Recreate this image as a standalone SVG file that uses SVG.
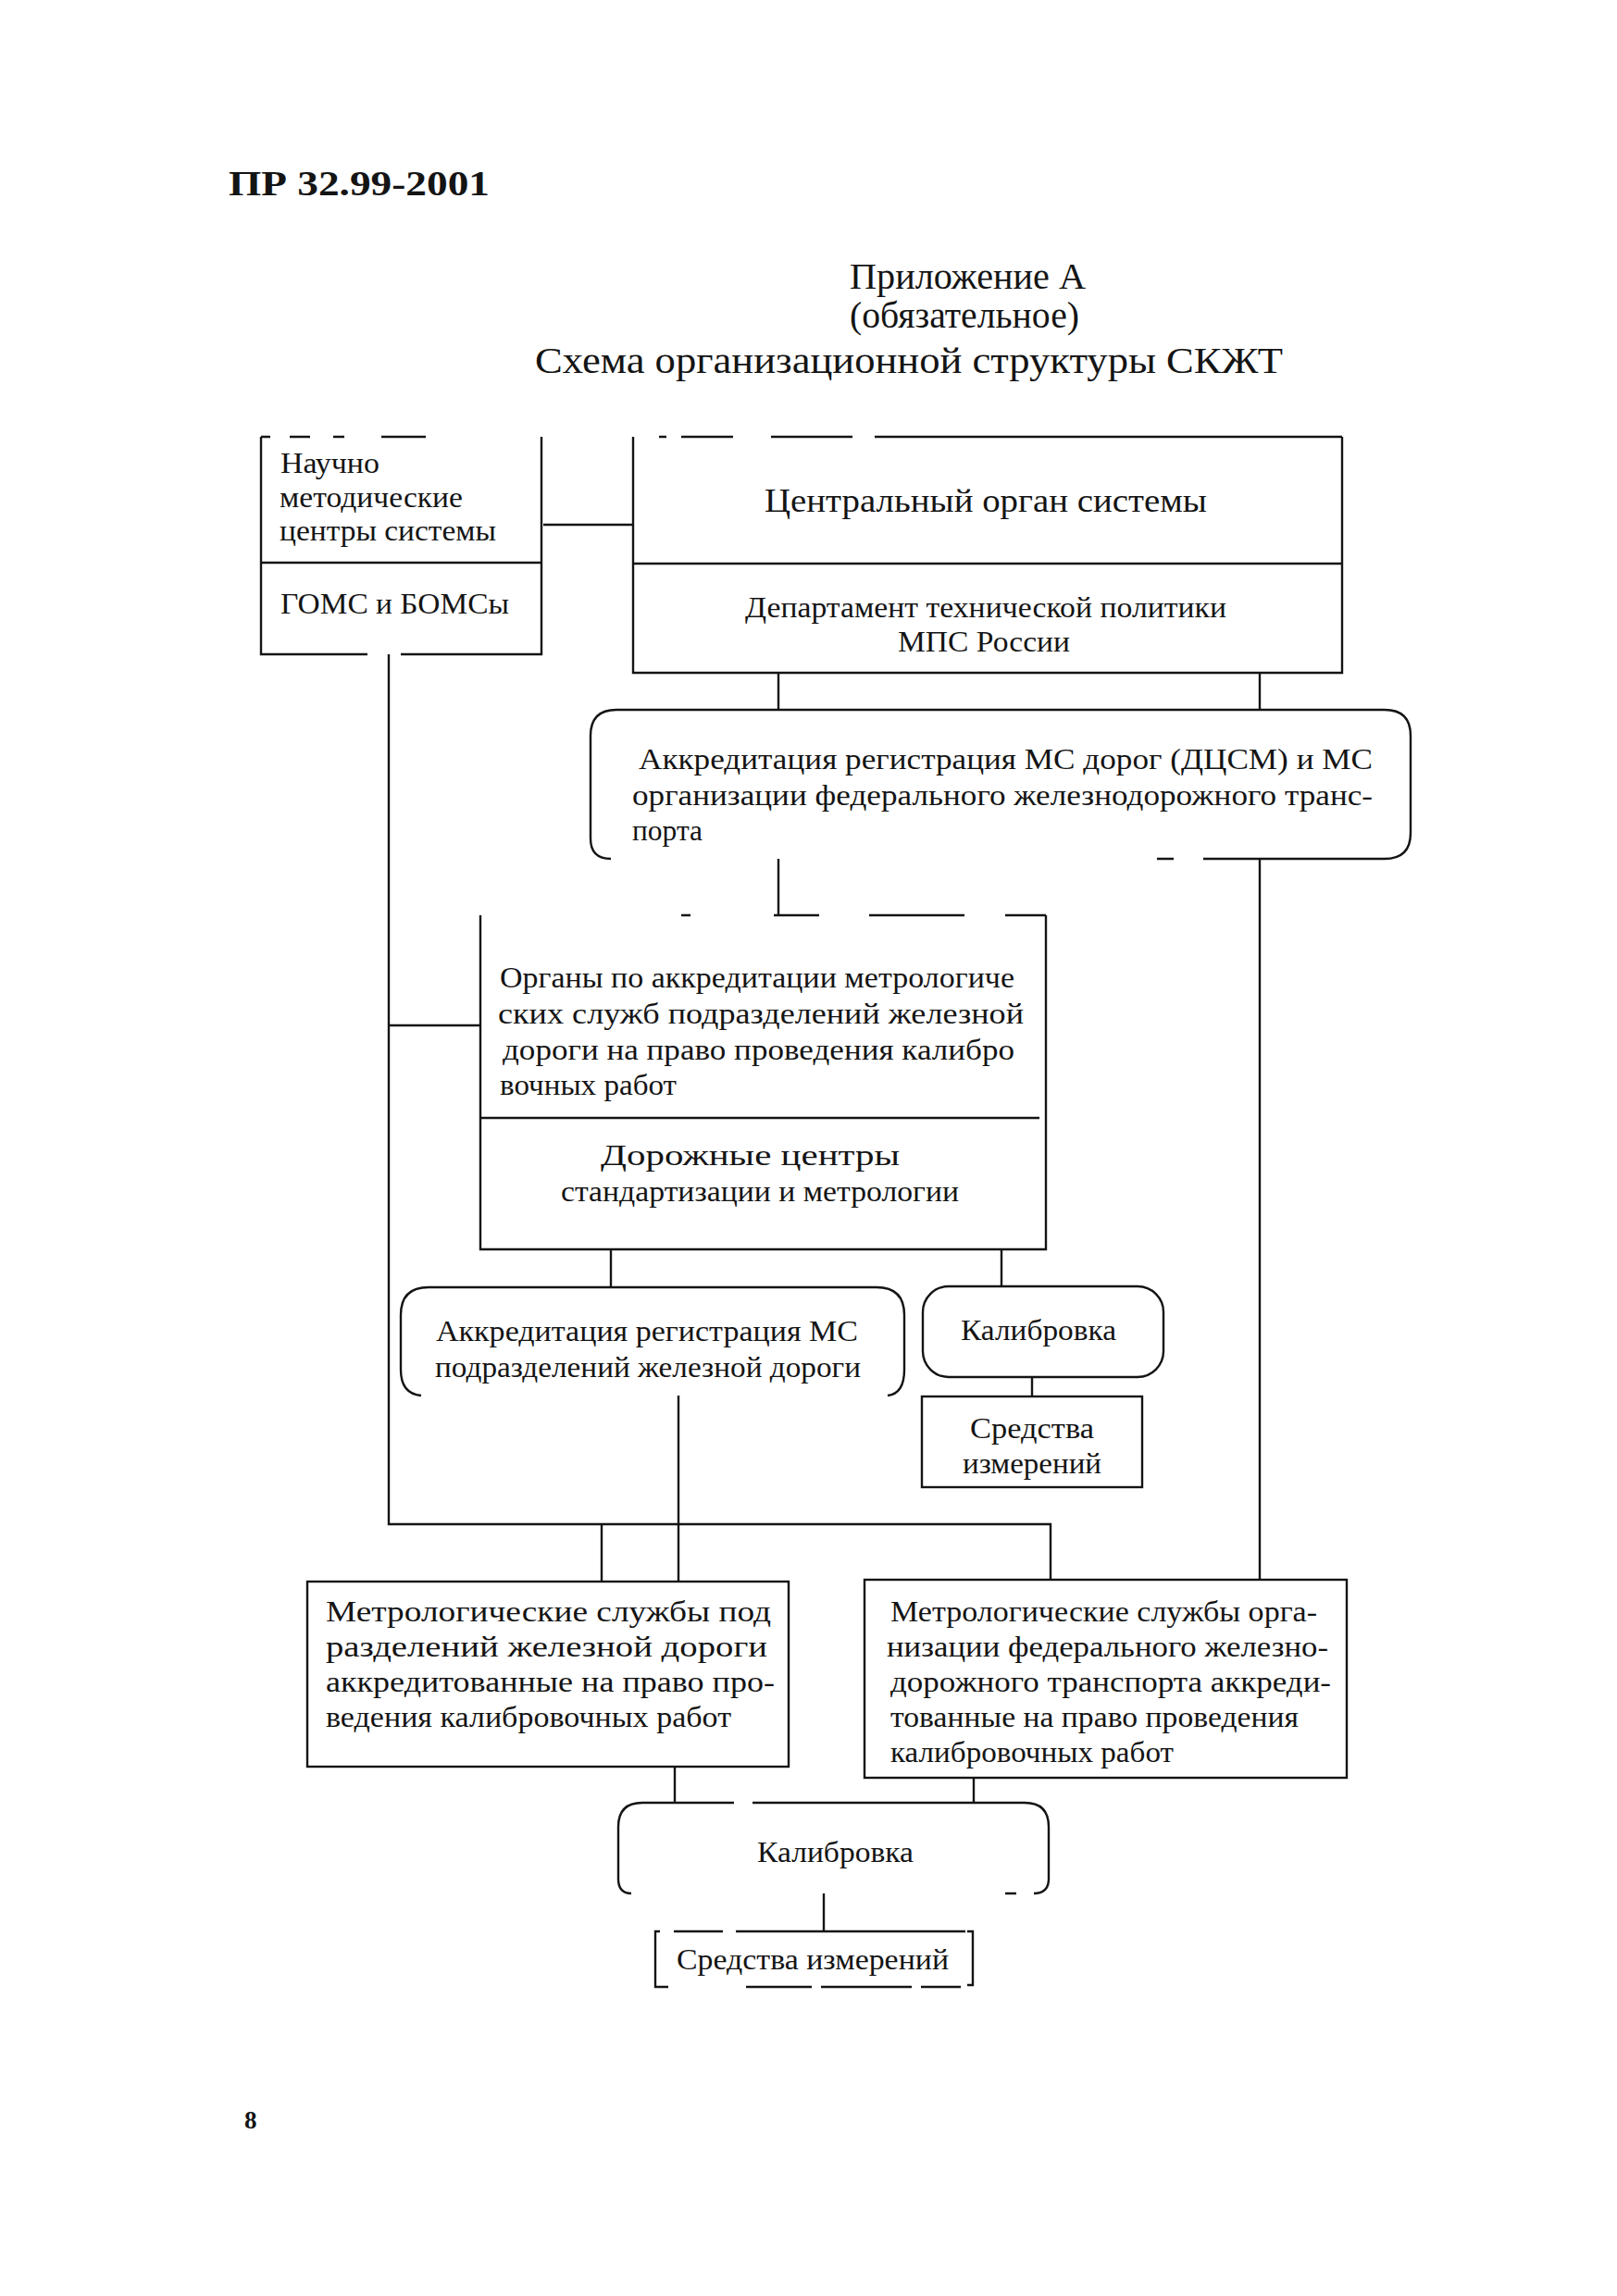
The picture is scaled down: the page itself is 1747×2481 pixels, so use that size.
<svg xmlns="http://www.w3.org/2000/svg" width="1747" height="2481" viewBox="0 0 1747 2481">
<style>
.bg{fill:#ffffff}
.ln{fill:none;stroke:#141414;stroke-width:2.4;stroke-linecap:butt;stroke-linejoin:miter}
.t{font-family:"Liberation Serif","Times New Roman",serif;font-size:32px;fill:#141414}
.s{font-size:31px}
.big{font-size:35px}
.ttl{font-size:39px}
.hdr{font-family:"Liberation Serif","Times New Roman",serif;font-weight:bold;font-size:38px;fill:#141414}
</style>
<rect class="bg" x="0" y="0" width="1747" height="2481"/>

<g id="header">
<text class="hdr" x="247" y="211" textLength="282" lengthAdjust="spacingAndGlyphs">ПР 32.99-2001</text>
<text class="t ttl" x="918" y="312" textLength="255" lengthAdjust="spacingAndGlyphs">Приложение  А</text>
<text class="t ttl" x="918" y="354" textLength="248" lengthAdjust="spacingAndGlyphs">(обязательное)</text>
<text class="t ttl" x="578" y="403" textLength="808" lengthAdjust="spacingAndGlyphs">Схема организационной структуры СКЖТ</text>
</g>

<g id="connectors">
<path class="ln" d="M587,567 H684"/>
<path class="ln" d="M841,727 V767"/>
<path class="ln" d="M1361,727 V767"/>
<path class="ln" d="M841,928 V989"/>
<path class="ln" d="M1361,928 V1708"/>
<path class="ln" d="M420,707 V1647 H1135 V1708"/>
<path class="ln" d="M650,1647 V1709"/>
<path class="ln" d="M420,1108 H519"/>
<path class="ln" d="M660,1350 V1391"/>
<path class="ln" d="M1082,1350 V1390"/>
<path class="ln" d="M1115,1488 V1509"/>
<path class="ln" d="M733,1508 V1709"/>
<path class="ln" d="M729,1910 V1948"/>
<path class="ln" d="M1052,1921 V1948"/>
<path class="ln" d="M890,2046 V2087"/>
</g>

<g id="node-nmc">
<path class="ln" d="M282,472 V707 H397 M433,707 H585 V472 M282,472 H292 M313,472 H335 M360,472 H372 M412,472 H460 M282,608 H585"/>
<text class="t s" x="303" y="511" textLength="107" lengthAdjust="spacingAndGlyphs">Научно</text>
<text class="t s" x="302" y="548" textLength="198" lengthAdjust="spacingAndGlyphs">методические</text>
<text class="t s" x="302" y="584" textLength="234" lengthAdjust="spacingAndGlyphs">центры системы</text>
<text class="t s" x="303" y="663" textLength="247" lengthAdjust="spacingAndGlyphs">ГОМС и БОМСы</text>
</g>

<g id="node-central">
<path class="ln" d="M684,472 V727 H1450 V472 M712,472 H720 M736,472 H792 M833,472 H921 M945,472 H1450 M684,609 H1450"/>
<text class="t big" x="826" y="553" textLength="478" lengthAdjust="spacingAndGlyphs">Центральный орган системы</text>
<text class="t" x="805" y="667" textLength="520" lengthAdjust="spacingAndGlyphs">Департамент технической политики</text>
<text class="t" x="970" y="704" textLength="186" lengthAdjust="spacingAndGlyphs">МПС России</text>
</g>

<g id="node-accr-road">
<path class="ln" d="M660,928 Q638,928 638,906 V795 Q638,767 666,767 H1496 Q1524,767 1524,795 V900 Q1524,928 1496,928 H1300 M1268,928 H1250"/>
<text class="t" x="690" y="831" textLength="793" lengthAdjust="spacingAndGlyphs">Аккредитация  регистрация МС дорог (ДЦСМ) и МС</text>
<text class="t" x="683" y="870" textLength="800" lengthAdjust="spacingAndGlyphs">организации  федерального  железнодорожного  транс-</text>
<text class="t" x="683" y="908" textLength="76" lengthAdjust="spacingAndGlyphs">порта</text>
</g>

<g id="node-organ">
<path class="ln" d="M519,989 V1350 H1130 V989 M736,989 H746 M836,989 H885 M939,989 H1042 M1086,989 H1130 M519,1208 H1123"/>
<text class="t" x="540" y="1067" textLength="556" lengthAdjust="spacingAndGlyphs">Органы по аккредитации метрологиче</text>
<text class="t" x="538" y="1106" textLength="568" lengthAdjust="spacingAndGlyphs">ских  служб  подразделений  железной</text>
<text class="t" x="543" y="1145" textLength="553" lengthAdjust="spacingAndGlyphs">дороги  на  право  проведения  калибро</text>
<text class="t" x="540" y="1183" textLength="191" lengthAdjust="spacingAndGlyphs">вочных работ</text>
<text class="t" x="649" y="1259" textLength="323" lengthAdjust="spacingAndGlyphs">Дорожные центры</text>
<text class="t" x="606" y="1298" textLength="430" lengthAdjust="spacingAndGlyphs">стандартизации и метрологии</text>
</g>

<g id="node-accr-unit">
<path class="ln" d="M455,1508 Q433,1506 433,1480 V1421 Q433,1391 463,1391 H947 Q977,1391 977,1421 V1480 Q977,1506 959,1508"/>
<text class="t" x="471" y="1449" textLength="456" lengthAdjust="spacingAndGlyphs">Аккредитация  регистрация МС</text>
<text class="t" x="470" y="1488" textLength="460" lengthAdjust="spacingAndGlyphs">подразделений железной  дороги</text>
</g>

<g id="node-calib1">
<rect class="ln" x="997" y="1390" width="260" height="98" rx="28" ry="28"/>
<text class="t" x="1038" y="1448" textLength="168" lengthAdjust="spacingAndGlyphs">Калибровка</text>
</g>

<g id="node-means1">
<rect class="ln" x="996" y="1509" width="238" height="98"/>
<text class="t" x="1048" y="1554" textLength="134" lengthAdjust="spacingAndGlyphs">Средства</text>
<text class="t" x="1040" y="1592" textLength="150" lengthAdjust="spacingAndGlyphs">измерений</text>
</g>

<g id="node-metro-unit">
<rect class="ln" x="332" y="1709" width="520" height="200"/>
<text class="t" x="352" y="1752" textLength="481" lengthAdjust="spacingAndGlyphs">Метрологические  службы  под</text>
<text class="t" x="352" y="1790" textLength="477" lengthAdjust="spacingAndGlyphs">разделений    железной    дороги</text>
<text class="t" x="352" y="1828" textLength="485" lengthAdjust="spacingAndGlyphs">аккредитованные  на  право  про-</text>
<text class="t" x="352" y="1866" textLength="438" lengthAdjust="spacingAndGlyphs">ведения калибровочных работ</text>
</g>

<g id="node-metro-fed">
<rect class="ln" x="934" y="1707" width="521" height="214"/>
<text class="t" x="962" y="1752" textLength="461" lengthAdjust="spacingAndGlyphs">Метрологические службы орга-</text>
<text class="t" x="958" y="1790" textLength="477" lengthAdjust="spacingAndGlyphs">низации федерального  железно-</text>
<text class="t" x="962" y="1828" textLength="476" lengthAdjust="spacingAndGlyphs">дорожного транспорта  аккреди-</text>
<text class="t" x="962" y="1866" textLength="441" lengthAdjust="spacingAndGlyphs">тованные на право проведения</text>
<text class="t" x="962" y="1904" textLength="306" lengthAdjust="spacingAndGlyphs">калибровочных работ</text>
</g>

<g id="node-calib2">
<path class="ln" d="M682,2046 Q668,2046 668,2030 V1974 Q668,1948 694,1948 H793 M813,1948 H1107 Q1133,1948 1133,1974 V2030 Q1133,2046 1117,2046 M1098,2046 H1086"/>
<text class="t" x="818" y="2012" textLength="169" lengthAdjust="spacingAndGlyphs">Калибровка</text>
</g>

<g id="node-means2">
<path class="ln" d="M713,2087 H708 V2147 H722 M728,2087 H781 M795,2087 H1043 M1045,2087 H1051 V2145 H1045 M806,2147 H877 M887,2147 H985 M995,2147 H1038"/>
<text class="t" x="731" y="2128" textLength="294" lengthAdjust="spacingAndGlyphs">Средства измерений</text>
</g>

<g id="page-number">
<text class="hdr" x="264" y="2300" style="font-size:27px">8</text>
</g>
</svg>
